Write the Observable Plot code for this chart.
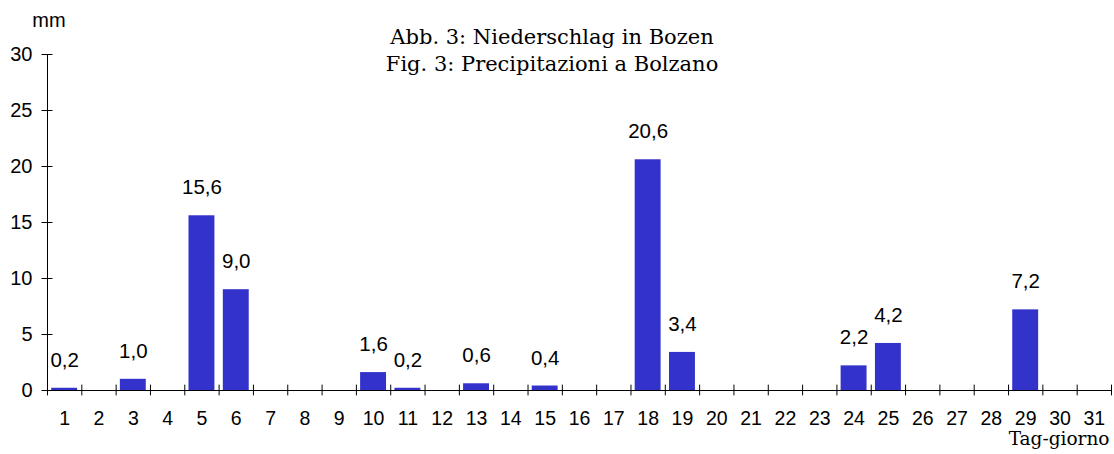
<!DOCTYPE html>
<html>
<head>
<meta charset="utf-8">
<script src="https://cdn.jsdelivr.net/npm/d3@7"></script>
<script src="https://cdn.jsdelivr.net/npm/@observablehq/plot@0.6"></script>
<style>
  html, body { margin: 0; padding: 0; background: #fff; }
  #chart { width: 1114px; height: 454px; }
</style>
</head>
<body>
<div id="chart"></div>
<script>
const days = d3.range(1, 32);
const rainDays = [1, 3, 5, 6, 10, 11, 13, 15, 18, 19, 24, 25, 29];
const rainMm = [0.2, 1.0, 15.6, 9.0, 1.6, 0.2, 0.6, 0.4, 20.6, 3.4, 2.2, 4.2, 7.2];
const yTicks = [0, 5, 10, 15, 20, 25, 30];
const titleLine1 = "Abb. 3: Niederschlag in Bozen";
const titleLine2 = "Fig. 3: Precipitazioni a Bolzano";
const yUnit = "mm";
const xTitle = "Tag-giorno";

const data = rainDays.map((d, i) => ({day: d, mm: rainMm[i], label: rainMm[i].toFixed(1).replace(".", ",")}));
const boundaries = d3.range(0.5, 32, 1);

const sans = "Liberation Sans, Arial, sans-serif";
const serif = "DejaVu Serif, serif";

const chart = Plot.plot({
  width: 1114,
  height: 454,
  marginLeft: 47,
  marginRight: 3,
  marginTop: 54,
  marginBottom: 64,
  style: {fontFamily: sans, background: "#fff", color: "#000", overflow: "visible"},
  x: {type: "linear", domain: [0.5, 31.5]},
  y: {domain: [0, 30]},
  marks: [
    Plot.rectY(data, {x1: d => d.day - 0.5, x2: d => d.day + 0.5, y1: 0, y2: "mm", insetLeft: 4.2, insetRight: 4.2, fill: "#3333CC"}),
    Plot.ruleY([0], {stroke: "#000", strokeWidth: 1}),
    Plot.ruleX([0.5], {stroke: "#000", strokeWidth: 1}),
    Plot.ruleX(boundaries, {y1: -0.48, y2: 0.48, stroke: "#000", strokeWidth: 1}),
    Plot.ruleY(yTicks, {x1: 0.5 - 0.16, x2: 0.5 + 0.16, stroke: "#000", strokeWidth: 1}),
    Plot.axisX(days, {tickSize: 0, tickPadding: 21, fontSize: 19.5, label: null, tickFormat: d => String(d)}),
    Plot.axisY(yTicks, {tickSize: 0, tickPadding: 15, fontSize: 20, label: null}),
    Plot.text(data, {x: "day", y: "mm", text: "label", dy: -28, fontSize: 20.5, lineAnchor: "middle", fill: "#000"}),
    Plot.text([yUnit], {frameAnchor: "top-left", dx: 1.5, dy: -33.5, fontSize: 20, textAnchor: "middle", lineAnchor: "middle", fill: "#000"}),
    Plot.text([titleLine1], {x: 15.2, frameAnchor: "top", dy: -17.5, fontSize: 21, fontFamily: serif, lineAnchor: "middle", fill: "#000"}),
    Plot.text([titleLine2], {x: 15.2, frameAnchor: "top", dy: 9.5, fontSize: 21, fontFamily: serif, lineAnchor: "middle", fill: "#000"}),
    Plot.text([xTitle], {frameAnchor: "bottom-right", dx: -2, dy: 49, fontSize: 18.5, fontFamily: serif, textAnchor: "end", lineAnchor: "middle", fill: "#000"})
  ]
});
document.getElementById("chart").appendChild(chart);
</script>
</body>
</html>
